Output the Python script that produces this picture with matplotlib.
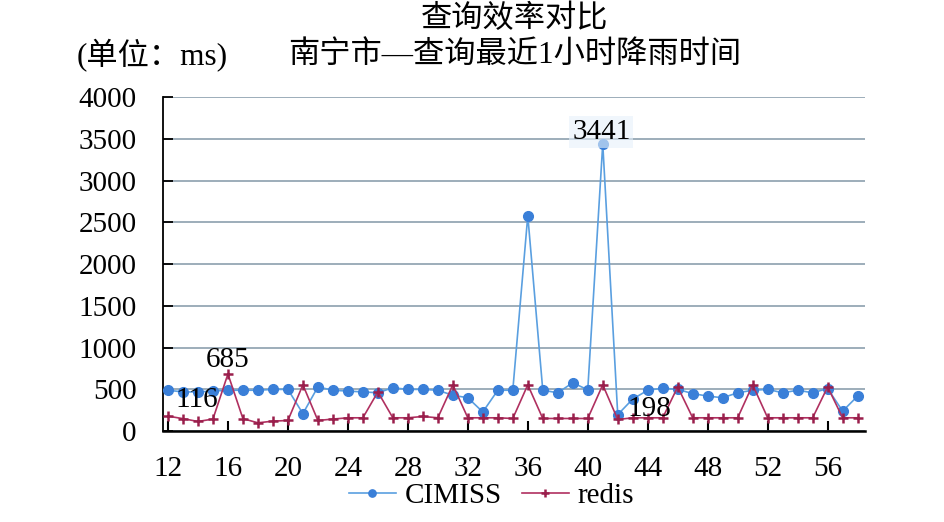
import matplotlib
matplotlib.use('Agg')
import matplotlib.pyplot as plt
import numpy as np

plt.rcParams['font.family'] = ['Liberation Serif', 'Noto Sans CJK SC']

# 数据
x_vals = list(range(12, 59))
cimiss = [490, 470, 470, 480, 490, 490, 490, 500, 500, 210, 530, 490, 480, 470, 460,
          520, 500, 500, 490, 430, 400, 230, 490, 490, 2580, 490, 460, 580, 495, 3441,
          198, 385, 490, 515, 500, 450, 420, 400, 460, 490, 500, 460, 490, 460, 510,
          240, 420]
redis = [180, 150, 116, 145, 685, 150, 100, 120, 128, 555, 128, 145, 160, 160, 470,
         160, 160, 176, 160, 555, 160, 160, 160, 152, 555, 152, 152, 152, 152, 555,
         140, 160, 160, 160, 530, 160, 160, 160, 160, 555, 160, 160, 160, 160, 530,
         160, 160]
etiquetas = ['116', '685', '3441', '198']

fig = plt.figure(figsize=(9.45, 5.22), dpi=100)
ax = fig.add_axes([0.1725, 0.174, 0.7425, 0.64])

ax.plot(x_vals, cimiss, color='#5a9fe0', lw=1.2, marker='o', ms=7,
        mfc='#3a7fd8', mec='#3a7fd8', label='CIMISS', zorder=3)
ax.plot(x_vals, redis, color='#b03060', lw=1.2, marker='+', ms=7, mew=1.8,
        mec='#9a1f4c', label='redis', zorder=4)

# etiquetas de datos (desplazadas junto al punto)
ax.text(14 - 0.1, redis[14 - 12] + 255, etiquetas[0], fontsize=21, ha='center', va='center', zorder=5)
ax.text(16, redis[16 - 12] + 165, etiquetas[1], fontsize=21, ha='center', va='center', zorder=5)
ax.text(41 - 0.1, cimiss[41 - 12] + 140, etiquetas[2], fontsize=21, ha='center', va='center', zorder=5,
        bbox=dict(boxstyle='square,pad=0.1', fc='#e6f1fb', ec='none', alpha=0.6))
ax.text(42 + 2.1, cimiss[42 - 12] + 70, etiquetas[3], fontsize=21, ha='center', va='center', zorder=5)

ax.set_xlim(11.67, 58.47)
ax.set_ylim(0, 4000)
ax.set_yticks(np.arange(0, 4001, 500))
ax.set_xticks(np.arange(12, 58, 4))
ax.grid(axis='y', color='#8c9fae', lw=1.2)
ax.set_axisbelow(True)
for lado in ['top', 'right']:
    ax.spines[lado].set_visible(False)
ax.spines['left'].set_linewidth(1.3)
ax.spines['bottom'].set_linewidth(1.8)
ax.tick_params(axis='y', direction='in', length=7, width=1.3, labelsize=21, pad=19)
ax.tick_params(axis='x', direction='in', length=7, width=1.5, labelsize=21, pad=18)

fig.text(0.545, 0.963, '查询效率对比', fontsize=22.5, ha='center', va='center')
fig.text(0.545, 0.893, '南宁市—查询最近1小时降雨时间', fontsize=22.5, ha='center', va='center')
fig.text(0.081, 0.893, '(单位：ms)', fontsize=22.5, ha='left', va='center')

fig.legend(loc='lower center', bbox_to_anchor=(0.52, -0.025), ncol=2, frameon=False,
           fontsize=21, handlelength=1.6, columnspacing=0.7, handletextpad=0.3,
           markerscale=0.75)

fig.savefig('out.png', dpi=100)
